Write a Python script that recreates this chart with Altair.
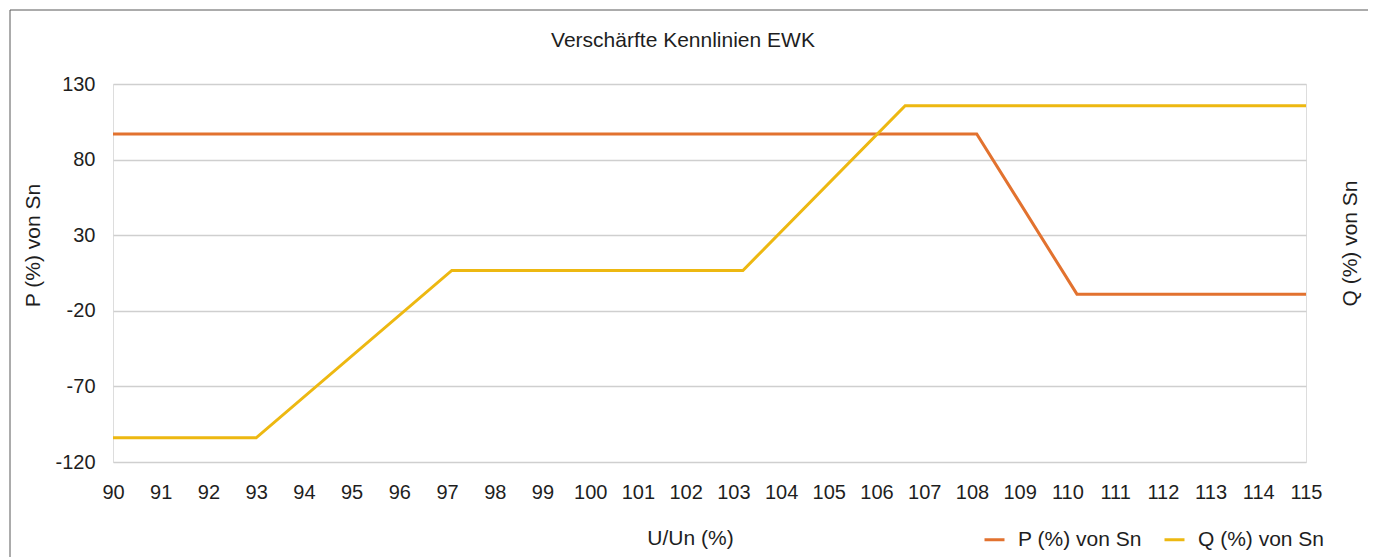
import altair as alt
import pandas as pd

# Data
p_x = [90, 108.1, 110.2, 115]
p_y = [97, 97, -9, -9]
q_x = [90, 93.0, 97.1, 103.2, 106.6, 115]
q_y = [-104, -104, 6.7, 6.7, 115.6, 115.6]
series_names = ["P (%) von Sn", "Q (%) von Sn"]
series_colors = ["#E2722F", "#EDB811"]
x_ticks = list(range(90, 116))
y_ticks = [-120, -70, -20, 30, 80, 130]
chart_title = "Verschärfte Kennlinien EWK"

rows = []
for xv, yv in zip(p_x, p_y):
    rows.append({"x": xv, "value": yv, "series": series_names[0], "ord": len(rows)})
for xv, yv in zip(q_x, q_y):
    rows.append({"x": xv, "value": yv, "series": series_names[1], "ord": len(rows)})
df = pd.DataFrame(rows)

FONT = "Liberation Sans"
TXT = "#1E1E1E"
FS = 20

x_enc = alt.X("x:Q", scale=alt.Scale(domain=[90, 115], nice=False, zero=False),
              axis=alt.Axis(values=x_ticks, grid=False, domain=False, ticks=False,
                            labelPadding=20, labelFontSize=FS, labelColor=TXT,
                            labelFont=FONT, labelFlush=False, labelOverlap=False,
                            title="U/Un (%)", titleFontSize=21, titleFontWeight="normal",
                            titleColor=TXT, titleFont=FONT, titleX=577, titleY=76,
                            titleBaseline="middle", titleAlign="center"))

y_scale = alt.Scale(domain=[-120, 130], nice=False, zero=False)

lines = alt.Chart(df).mark_line(strokeWidth=3).encode(
    x=x_enc,
    y=alt.Y("value:Q", scale=y_scale,
            axis=alt.Axis(values=y_ticks, grid=True, gridColor="#CFCFCF", gridWidth=1.3,
                          domain=False, ticks=False, labelPadding=18, labelFontSize=FS,
                          labelColor=TXT, labelFont=FONT, labelExpr="'' + datum.value",
                          title="P (%) von Sn", titleFontSize=21, titleFontWeight="normal",
                          titleColor=TXT, titleFont=FONT, titleAngle=270, titleX=-80,
                          titleY=161, titleAlign="center", titleBaseline="middle")),
    color=alt.Color("series:N", scale=alt.Scale(domain=series_names, range=series_colors),
                    legend=alt.Legend(title=None, orient="none", legendX=870, legendY=444,
                                      direction="horizontal", symbolType="stroke",
                                      symbolStrokeWidth=3, symbolSize=400,
                                      labelFontSize=21, labelColor=TXT, labelFont=FONT,
                                      columnPadding=16, labelOffset=12, padding=0)),
    order="ord:Q",
)

right = alt.Chart(df).mark_line(opacity=0).encode(
    x=alt.X("x:Q", scale=alt.Scale(domain=[90, 115], nice=False, zero=False)),
    y=alt.Y("value:Q", scale=y_scale,
            axis=alt.Axis(orient="right", labels=False, ticks=False, domain=False, grid=False,
                          title="Q (%) von Sn", titleFontSize=21, titleFontWeight="normal",
                          titleColor=TXT, titleFont=FONT, titleAngle=270, titleX=44,
                          titleY=159, titleAlign="center", titleBaseline="middle")),
    detail="series:N",
)

frame = alt.Chart(pd.DataFrame({"a": [0]})).mark_rect(
    fillOpacity=0, stroke="#595959", strokeWidth=1
).encode(x=alt.value(-103), x2=alt.value(1256), y=alt.value(-74), y2=alt.value(600))

title = alt.Chart(pd.DataFrame({"a": [0]})).mark_text(
    text=chart_title, font=FONT, fontSize=21, color=TXT, align="center", baseline="alphabetic"
).encode(x=alt.value(570), y=alt.value(-37))

chart = alt.layer(frame, title, lines, right).resolve_scale(y="independent").properties(
    width=1193, height=378,
    autosize=alt.AutoSizeParams(type="none"),
    padding={"left": 105, "top": 76, "right": 62, "bottom": 95},
).configure_view(stroke=None).configure(background="white")

chart.save("out.html", embed_options={"renderer": "svg", "actions": False})
